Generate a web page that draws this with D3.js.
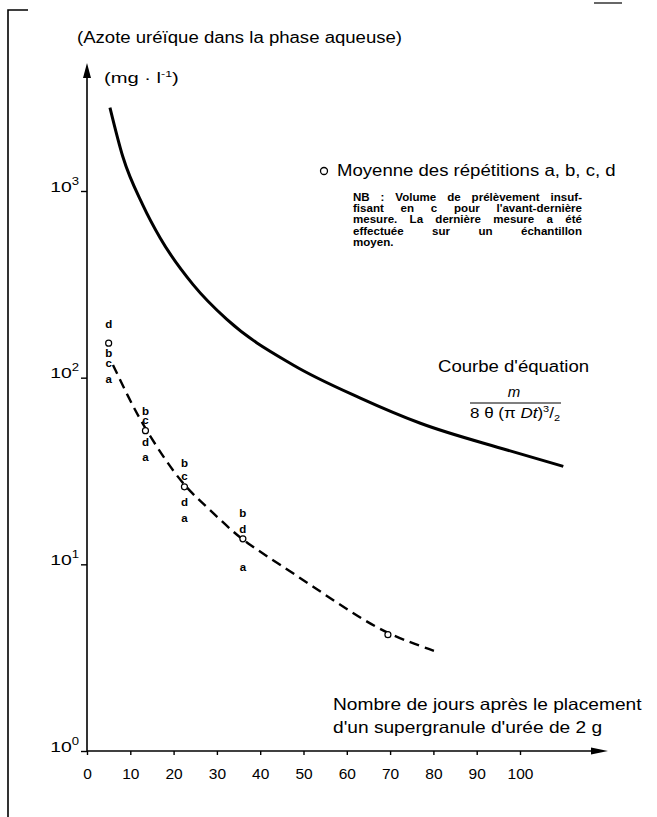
<!DOCTYPE html>
<html lang="fr">
<head>
<meta charset="UTF-8">
<title>Azote uréïque dans la phase aqueuse</title>
<style>
  body { margin: 0; background: #fff; }
  svg { display: block; font-family: "Liberation Sans", Arial, Helvetica, sans-serif; }
  .axis path.domain { display: none; }
  .axis line { stroke: #000; stroke-width: 1.4px; }
  .axis text { fill: #000; }
</style>
</head>
<body>
<svg id="chart" width="657" height="817"></svg>
<script src="https://d3js.org/d3.v7.min.js"></script>
<script>
// axis ticks
const xTicks = [0, 10, 20, 30, 40, 50, 60, 70, 80, 90, 100];
const yTicks = [1, 10, 100, 1000];
const yExp = ["0", "1", "2", "3"];

// measurements (mg/l) for the replicates a, b, c, d and their mean
const days = [5, 13.5, 22.5, 36, 69.5];
const repA = [98, 37.6, 17.7, 9.7, null];
const repB = [136, 66, 35, 18.8, null];
const repC = [120, 59, 29.7, null, null];
const repD = [194, 45, 21.6, 15.5, null];
const means = [153, 52, 26, 13.7, 4.2];

// theoretical curve m / 8θ(πDt)^3/2
const curveDays = [5.3, 8.3, 12.9, 16.9, 24.5, 32.3, 47.6, 63, 77, 97, 110];
const curveVals = [2800, 1520, 840, 560, 315, 205, 117, 78, 57, 41, 33.5];

// dashed line drawn through the means
const fitDays = [6, 9.5, 12.7, 17.6, 22.6, 27.7, 33.7, 37.6, 43.9, 52.2, 60.7, 69.5, 80.8];
const fitVals = [117, 79, 57, 37.6, 26, 20.3, 14.9, 12.7, 10.2, 7.6, 5.6, 4.2, 3.4];

const nbLines = [
  "NB : Volume de prélèvement insuf-",
  "fisant en c pour l'avant-dernière",
  "mesure. La dernière mesure a été",
  "effectuée sur un échantillon",
  "moyen."
];

const svg = d3.select("#chart");
const x = d3.scaleLinear().domain([0, 100]).range([87, 520]);
const y = d3.scaleLog().domain([1, 1000]).range([751, 191]);

// the printed lettering is wider than Arial
const WIDE = 1.16;
function stretch(sel, k = WIDE) {
  sel.each(function () {
    const w = this.getComputedTextLength();
    d3.select(this).attr("textLength", w * k).attr("lengthAdjust", "spacingAndGlyphs");
  });
  return sel;
}

// page frame marks
svg.append("path")
  .attr("d", "M8,817V10H28")
  .attr("fill", "none").attr("stroke", "#000").attr("stroke-width", 1.6);
svg.append("line").attr("x1", 594).attr("x2", 622).attr("y1", 3).attr("y2", 3)
  .attr("stroke", "#000").attr("stroke-width", 1.2);

// axes lines with arrow heads
svg.append("line").attr("x1", x(0)).attr("x2", 600).attr("y1", y(1)).attr("y2", y(1))
  .attr("stroke", "#000").attr("stroke-width", 1.6);
svg.append("path").attr("d", `M${608},${y(1)} l-17,-3.5 l0,7 z`).attr("fill", "#000");
svg.append("line").attr("x1", x(0)).attr("x2", x(0)).attr("y1", y(1)).attr("y2", 70)
  .attr("stroke", "#000").attr("stroke-width", 1.6);
svg.append("path").attr("d", `M${x(0)},63 l-4,15 l8,0 z`).attr("fill", "#000");

const gx = svg.append("g").attr("class", "axis")
  .attr("transform", `translate(0,${y(1)})`)
  .call(d3.axisBottom(x).tickValues(xTicks).tickSize(4).tickPadding(13).tickFormat(d => d));
gx.selectAll("text").attr("font-size", 15.5).attr("font-family", null);

const gy = svg.append("g").attr("class", "axis")
  .attr("transform", `translate(${x(0)},0)`)
  .call(d3.axisLeft(y).tickValues(yTicks).tickSize(6).tickFormat(""));
gy.selectAll(".tick text")
  .attr("x", -8).attr("dy", 0).attr("font-size", 15.5).attr("font-family", null)
  .each(function (d, i) {
    const t = d3.select(this);
    t.append("tspan").text("10");
    t.append("tspan").attr("dy", -7).attr("font-size", 10.5).text(yExp[i]);
  });
stretch(gy.selectAll(".tick text"), 1.25);

// titles
stretch(svg.append("text").attr("x", 77).attr("y", 43).attr("font-size", 16)
  .text("(Azote uréïque dans la phase aqueuse)"));
const unit = svg.append("text").attr("x", 104).attr("y", 83).attr("font-size", 15.5);
unit.append("tspan").text("(mg · l");
unit.append("tspan").attr("dy", -6).attr("font-size", 9.5).text("-1");
unit.append("tspan").attr("dy", 6).text(")");
stretch(unit, 1.3);

// theoretical curve
const line = d3.line().x(d => x(d[0])).y(d => y(d[1])).curve(d3.curveMonotoneX);
svg.append("path")
  .datum(curveDays.map((d, i) => [d, curveVals[i]]))
  .attr("d", line).attr("fill", "none").attr("stroke", "#000").attr("stroke-width", 3);

// dashed line through means
svg.append("path")
  .datum(fitDays.map((d, i) => [d, fitVals[i]]))
  .attr("d", line.curve(d3.curveBasis)).attr("fill", "none").attr("stroke", "#000")
  .attr("stroke-width", 2.4).attr("stroke-dasharray", "10,6");

// replicate letters
const reps = { a: repA, b: repB, c: repC, d: repD };
Object.entries(reps).forEach(([k, vals]) => {
  svg.append("g").selectAll("text")
    .data(days.map((d, i) => [d, vals[i]]).filter(p => p[1] != null))
    .join("text")
    .attr("x", d => x(d[0])).attr("y", d => y(d[1]))
    .attr("dy", "0.35em").attr("text-anchor", "middle")
    .attr("font-size", 11.5).attr("font-weight", "bold")
    .text(k);
});

// means
svg.append("g").selectAll("circle")
  .data(days.map((d, i) => [d, means[i]]))
  .join("circle")
  .attr("cx", d => x(d[0])).attr("cy", d => y(d[1])).attr("r", 3)
  .attr("fill", "#fff").attr("stroke", "#000").attr("stroke-width", 1.2);

// legend
svg.append("circle").attr("cx", 324).attr("cy", 171).attr("r", 3.5)
  .attr("fill", "none").attr("stroke", "#000").attr("stroke-width", 1.3);
stretch(svg.append("text").attr("x", 337).attr("y", 176).attr("font-size", 16)
  .text("Moyenne des répétitions a, b, c, d"));

// justified note
const nbLeft = 353, nbWidth = 229;
nbLines.forEach((ln, i) => {
  const yy = 201 + i * 11.2;
  const words = ln.split(" ");
  const g = svg.append("g");
  const ts = words.map(w => g.append("text").attr("y", yy).attr("font-size", 10.5)
    .attr("font-weight", "bold").text(w));
  const widths = ts.map(t => t.node().getComputedTextLength() * 1.1);
  ts.forEach((t, j) => t.attr("textLength", widths[j]).attr("lengthAdjust", "spacingAndGlyphs"));
  const last = i === nbLines.length - 1;
  const gap = last ? 3 : (nbWidth - d3.sum(widths)) / (words.length - 1);
  let cx = nbLeft;
  ts.forEach((t, j) => { t.attr("x", cx); cx += widths[j] + gap; });
});

// equation label
stretch(svg.append("text").attr("x", 438).attr("y", 372).attr("font-size", 16)
  .text("Courbe d'équation"));
svg.append("text").attr("x", 514).attr("y", 397).attr("font-size", 15)
  .attr("font-style", "italic").attr("text-anchor", "middle").text("m");
svg.append("line").attr("x1", 470).attr("x2", 561).attr("y1", 403).attr("y2", 403)
  .attr("stroke", "#000").attr("stroke-width", 1.2);
const den = svg.append("text").attr("x", 470).attr("y", 418).attr("font-size", 14);
den.append("tspan").text("8 θ (π ");
den.append("tspan").attr("font-style", "italic").text("Dt");
den.append("tspan").text(")");
den.append("tspan").attr("dy", -6).attr("font-size", 9).text("3");
den.append("tspan").attr("dy", 6).text("/");
den.append("tspan").attr("dy", 3).attr("font-size", 9).text("2");
den.attr("textLength", 90).attr("lengthAdjust", "spacingAndGlyphs");

// x axis title
stretch(svg.append("text").attr("x", 333).attr("y", 710).attr("font-size", 16.5)
  .text("Nombre de jours après le placement"));
stretch(svg.append("text").attr("x", 333).attr("y", 733).attr("font-size", 16.5)
  .text("d'un supergranule d'urée de 2 g"));
</script>
</body>
</html>
